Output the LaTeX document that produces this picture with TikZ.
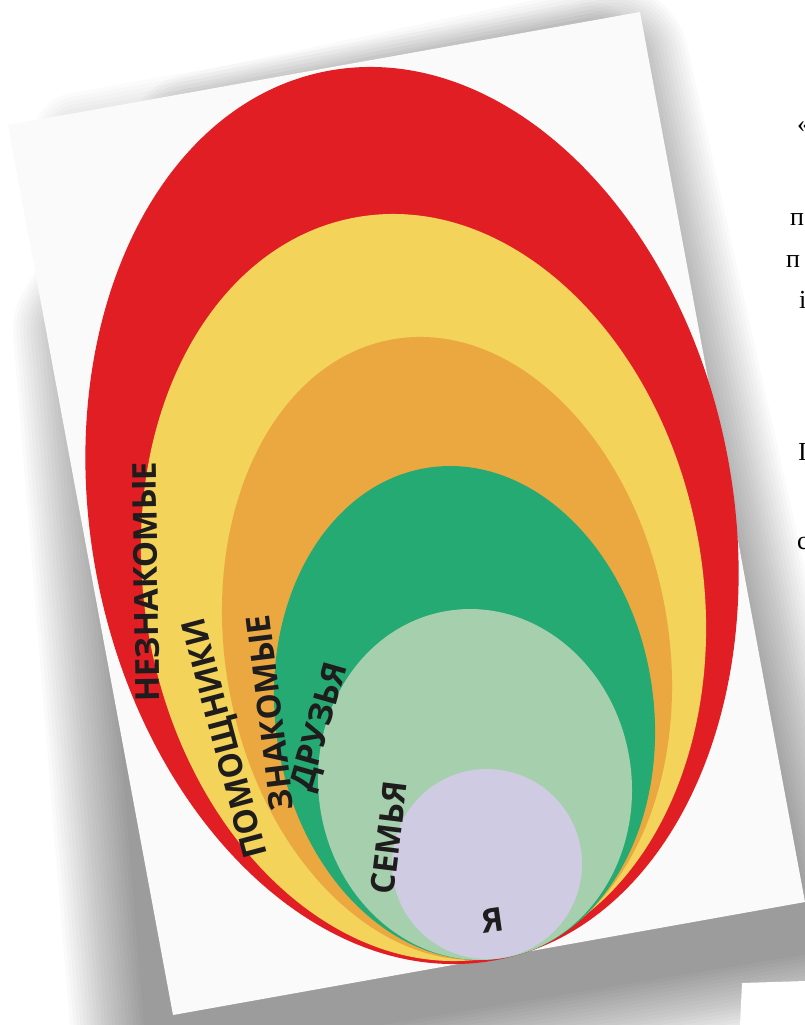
\documentclass[tikz,border=0pt]{standalone}
\usepackage{fontspec}
\setmainfont{Open Sans}
\newfontfamily\serifru{Liberation Serif}
\definecolor{cRed}{RGB}{224,30,36}
\definecolor{cYel}{RGB}{243,211,90}
\definecolor{cOra}{RGB}{236,168,64}
\definecolor{cGrn}{RGB}{37,170,115}
\definecolor{cLgr}{RGB}{166,208,173}
\definecolor{cLav}{RGB}{207,203,227}
\definecolor{cSheet}{RGB}{250,250,250}
\definecolor{cTxt}{RGB}{30,28,28}
\begin{document}
\begin{tikzpicture}[x=1pt,y=-1pt,
  lbl/.style={font=\fontsize{33}{33}\selectfont\bfseries, text=cTxt, inner sep=0pt},
  frag/.style={font=\serifru\fontsize{26}{26}\selectfont, text=black, inner sep=0pt, anchor=west},
  shadowlayer/.style={black, line join=round}]
\useasboundingbox (0,0) rectangle (805,1025);
\clip (0,0) rectangle (805,1025);
\fill[white] (0,0) rectangle (805,1025);
% soft shadow of the sheet (left, bottom and right)
\foreach \i in {1,...,22}{
  \begin{scope}[transparency group, opacity=0.021]
  \filldraw[shadowlayer, line width=\i*7pt] (90,330) -- (200,150) -- (612,62) -- (812,950) -- (150,1060) -- cycle;
  \end{scope}
}
% light shadow along the top edge
\foreach \i in {1,...,12}{
  \begin{scope}[transparency group, opacity=0.014]
  \filldraw[shadowlayer, line width=\i*8pt] (80,140) -- (590,50) -- (560,85) -- (100,168) -- cycle;
  \end{scope}
}
% sheet lying underneath, bottom right
\fill[white] (742,983) -- (806,981) -- (806,1026) -- (740,1026) -- cycle;
% main sheet
\fill[cSheet] (8,125) -- (640,12) -- (805,902) -- (173,1015) -- cycle;
% nested ovals
\fill[cRed, rotate around={10.85:(412,515.5)}] (412,515.5) ellipse [x radius=321, y radius=452.5];
\fill[cYel, rotate around={10.45:(423.5,587.5)}] (423.5,587.5) ellipse [x radius=278.8, y radius=376.3];
\fill[cOra, rotate around={9.96:(447,648.5)}] (447,648.5) ellipse [x radius=221.7, y radius=313.9];
\fill[cGrn, rotate around={8.1:(464.5,713)}] (464.5,713) ellipse [x radius=189.2, y radius=248];
\fill[cLgr, rotate around={7.96:(475,784.5)}] (475,784.5) ellipse [x radius=156.6, y radius=175.8];
\fill[cLav] (487,864) circle [radius=95];
% labels
\node[lbl, rotate=91] (nez) at (146,582) {НЕЗНАКОМЫЕ};
\node[lbl, rotate=105] (pom) at (227,738) {ПОМОЩНИКИ};
\node[lbl, rotate=97] (zna) at (270,713) {ЗНАКОМЫЕ};
\node[lbl, rotate=74] (dru) at (321,727) {ДРУЗЬЯ};
\node[lbl, rotate=83] (sem) at (389,838) {СЕМЬЯ};
\node[lbl, rotate=8] (ya) at (493,920) {Я};
% fragments of the neighbouring page
\node[frag] (f1) at (797,127) {«};
\node[frag] (f2) at (790,220) {п};
\node[frag] (f3) at (786,262) {п};
\node[frag] (f4) at (799,300) {і};
\node[frag] (f5) at (798,452) {I};
\node[frag] (f6) at (797,543) {с};
\end{tikzpicture}
\end{document}
